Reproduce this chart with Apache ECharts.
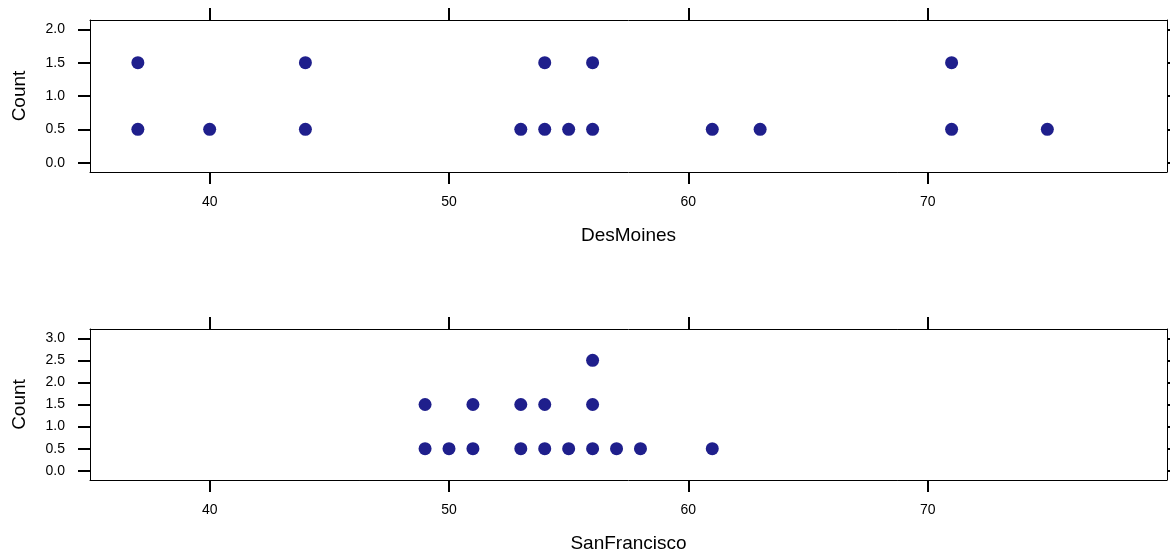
<!DOCTYPE html>
<html>
<head>
<meta charset="utf-8">
<script src="https://cdn.jsdelivr.net/npm/echarts@6/dist/echarts.min.js"></script>
<style>
html,body{margin:0;padding:0;background:#fff;}
#chart{width:1170px;height:556px;}
</style>
</head>
<body>
<div id="chart"></div>
<script>
// Data: temperature values and how many times each occurs
const desMoinesValues = [37, 40, 44, 53, 54, 55, 56, 61, 63, 71, 75];
const desMoinesCounts = [2, 1, 2, 1, 2, 1, 2, 1, 1, 2, 1];
const sanFranciscoValues = [49, 50, 51, 53, 54, 55, 56, 57, 58, 61];
const sanFranciscoCounts = [2, 1, 2, 2, 2, 1, 3, 1, 1, 1];
const xTicks = [40, 50, 60, 70];
const yTicksTop = [0, 0.5, 1, 1.5, 2];
const yTicksBottom = [0, 0.5, 1, 1.5, 2, 2.5, 3];
const panelNames = ['DesMoines', 'SanFrancisco'];

function stackPoints(values, counts) {
  const pts = [];
  values.forEach((v, i) => {
    for (let k = 1; k <= counts[i]; k++) pts.push([v, k - 0.5]);
  });
  return pts;
}

const FONT = 'Liberation Sans, Arial, sans-serif';
const dotColor = '#1f1f8c';

const grids = [
  {left: 90, right: 3, top: 20, height: 152},
  {left: 90, right: 3, top: 329, height: 151}
];
const yRanges = [[-0.14, 2.14], [-0.21, 3.21]];
const yTickSets = [yTicksTop, yTicksBottom];
const dataSets = [stackPoints(desMoinesValues, desMoinesCounts), stackPoints(sanFranciscoValues, sanFranciscoCounts)];

const xAxes = [], yAxes = [], series = [];
for (let g = 0; g < 2; g++) {
  xAxes.push({
    gridIndex: g, type: 'value', position: 'bottom', min: 35, max: 80,
    name: panelNames[g], nameLocation: 'middle', nameGap: 54,
    nameTextStyle: {fontFamily: FONT, fontSize: 19, color: '#000'},
    axisLine: {show: true, onZero: false, lineStyle: {color: '#000', width: 1}},
    axisTick: {show: true, length: 12, customValues: xTicks, lineStyle: {color: '#000', width: 2}},
    axisLabel: {show: true, margin: 23, customValues: xTicks, fontFamily: FONT, fontSize: 14, color: '#000'},
    splitLine: {show: false}
  });
  xAxes.push({
    gridIndex: g, type: 'value', position: 'top', min: 35, max: 80,
    axisLine: {show: true, onZero: false, lineStyle: {color: '#000', width: 1}},
    axisTick: {show: true, length: 12, customValues: xTicks, lineStyle: {color: '#000', width: 2}},
    axisLabel: {show: false},
    splitLine: {show: false}
  });
  yAxes.push({
    gridIndex: g, type: 'value', position: 'left', min: yRanges[g][0], max: yRanges[g][1],
    name: 'Count', nameLocation: 'middle', nameGap: 61, nameRotate: 90,
    nameTextStyle: {fontFamily: FONT, fontSize: 19, color: '#000'},
    axisLine: {show: true, onZero: false, lineStyle: {color: '#000', width: 1}},
    axisTick: {show: true, length: 12, customValues: yTickSets[g], lineStyle: {color: '#000', width: 2}},
    axisLabel: {show: true, margin: 25, customValues: yTickSets[g], fontFamily: FONT, fontSize: 14, color: '#000',
      formatter: v => Number(v).toFixed(1)},
    splitLine: {show: false}
  });
  yAxes.push({
    gridIndex: g, type: 'value', position: 'right', min: yRanges[g][0], max: yRanges[g][1],
    axisLine: {show: true, onZero: false, lineStyle: {color: '#000', width: 1}},
    axisTick: {show: true, length: 12, customValues: yTickSets[g], lineStyle: {color: '#000', width: 2}},
    axisLabel: {show: false},
    splitLine: {show: false}
  });
  series.push({
    type: 'scatter', xAxisIndex: g * 2, yAxisIndex: g * 2,
    data: dataSets[g], symbol: 'circle', symbolSize: 13,
    itemStyle: {color: dotColor, opacity: 1}
  });
}

const chart = echarts.init(document.getElementById('chart'));
chart.setOption({
  animation: false,
  grid: grids,
  xAxis: xAxes,
  yAxis: yAxes,
  series: series
});
</script>
</body>
</html>
